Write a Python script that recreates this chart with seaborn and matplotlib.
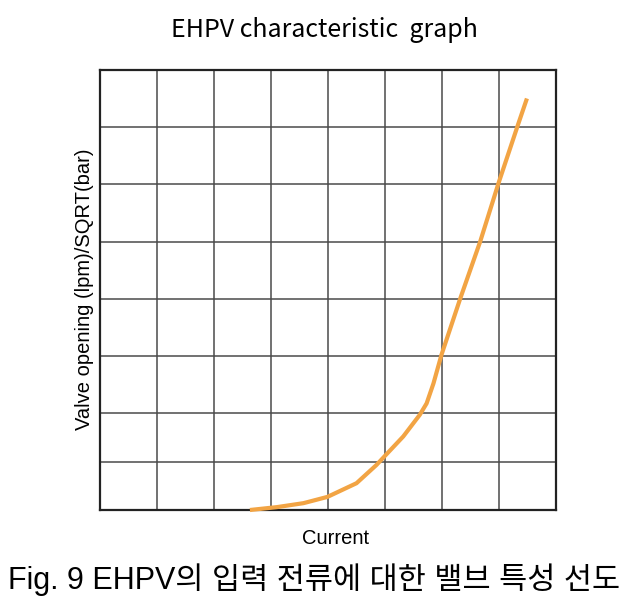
import matplotlib
matplotlib.use("Agg")
import matplotlib.pyplot as plt
import seaborn as sns
import pandas as pd

# Data (x in grid columns, y in grid units)
current = [2.63, 3.10, 3.57, 3.99, 4.50, 4.85, 4.99, 5.32, 5.61, 5.73, 5.85, 5.99, 6.32, 6.67, 6.99, 7.34, 7.49]
opening = [0.00, 0.05, 0.12, 0.23, 0.47, 0.79, 0.94, 1.29, 1.67, 1.87, 2.22, 2.72, 3.71, 4.71, 5.73, 6.78, 7.22]
x_grid = [0, 1, 2, 3, 4, 5, 6, 7, 8]
y_grid = [0, 0.84, 1.71, 2.71, 3.71, 4.71, 5.72, 6.72, 7.72]

title = "EHPV characteristic  graph"
ylabel = "Valve opening (lpm)/SQRT(bar)"
xlabel = "Current"
caption = "Fig. 9 EHPV의 입력 전류에 대한 밸브 특성 선도"

sns.set_theme(style="white")
plt.rcParams['font.family'] = ['Liberation Sans', 'Noto Sans CJK KR', 'DejaVu Sans']
plt.rcParams['text.color'] = 'black'

df = pd.DataFrame({"current": current, "opening": opening})

fig = plt.figure(figsize=(6.31, 6.10), dpi=100)
ax = fig.add_axes([100/631, 1-510/610, 456/631, 440/610])

sns.lineplot(data=df, x="current", y="opening", ax=ax, color="#F2A444",
             linewidth=3.0, solid_capstyle="butt", zorder=3, clip_on=False)

ax.set_xlim(0, 8)
ax.set_ylim(0, 7.72)
ax.set_xticks(x_grid)
ax.set_yticks(y_grid)
ax.grid(True, color="#4a4a4a", linewidth=1.1)
ax.tick_params(length=0, labelbottom=False, labelleft=False)
for s in ax.spines.values():
    s.set_color("#222222")
    s.set_linewidth(1.6)
ax.set_xlabel("")
ax.set_ylabel("")

fig.text(324/631, 1-30/610, title, ha="center", va="center", fontsize=18,
         family=['Noto Sans CJK KR', 'DejaVu Sans'], color="black")
fig.text(85/631, 1-289/610, ylabel, ha="center", va="center", rotation=90,
         fontsize=14.5, color="black")
fig.text(336/631, 1-538/610, xlabel, ha="center", va="center", fontsize=14.5,
         color="black")
fig.text(314/631, 1-580/610, caption, ha="center", va="center", fontsize=22,
         family=['Liberation Sans', 'Noto Sans CJK KR'], color="black")

fig.savefig("out.png", dpi=100)
